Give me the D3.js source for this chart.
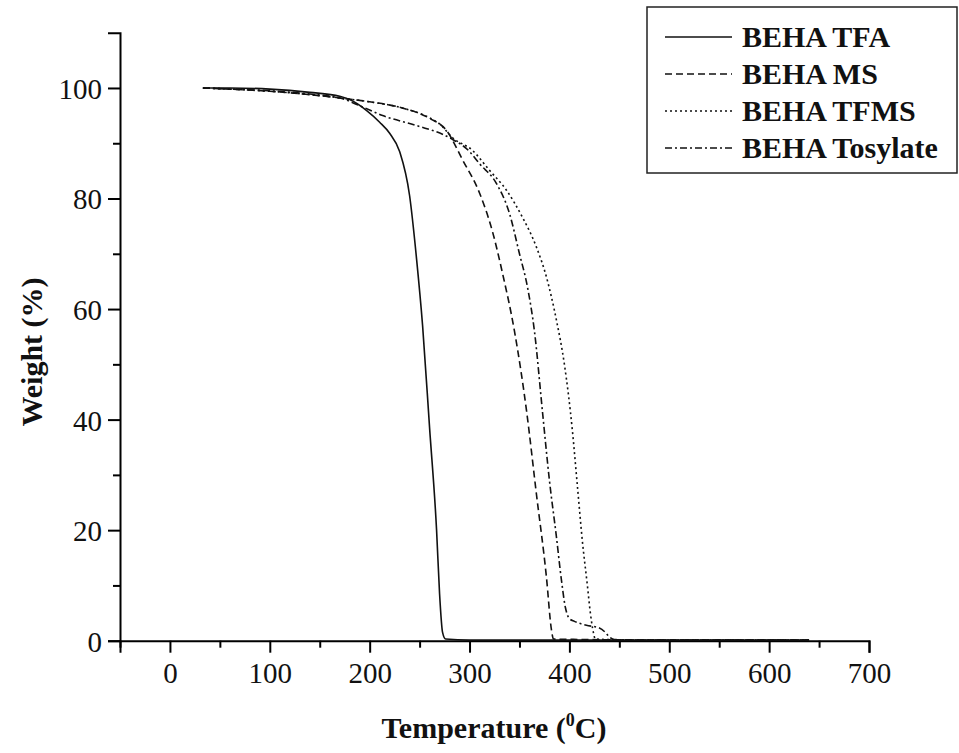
<!DOCTYPE html>
<html>
<head>
<meta charset="utf-8">
<script src="https://cdn.jsdelivr.net/npm/d3@7"></script>
<style>
  html, body { margin: 0; padding: 0; background: #fff; }
  svg { display: block; font-family: "Liberation Serif", "Times New Roman", serif; }
</style>
</head>
<body>
<svg id="chart" width="959" height="753"></svg>
<script>
// TGA curves — temperature (°C) vs weight (%)
const seriesNames = ['BEHA TFA', 'BEHA MS', 'BEHA TFMS', 'BEHA Tosylate'];

const tfaTemp   = [33, 60, 100, 140, 170, 180, 197, 210, 220, 230, 240, 247, 253, 260, 267, 270, 273, 276, 300, 400, 500, 640];
const tfaWeight = [100, 100, 99.8, 99.2, 98.5, 97.9, 95.9, 93.8, 91.8, 88.5, 80.5, 69, 57, 38.5, 20, 8.5, 1.5, 0.3, 0.1, 0.1, 0.1, 0.1];

const msTemp   = [33, 60, 100, 140, 170, 200, 230, 260, 277, 293, 310, 323, 333, 345, 357, 367, 377, 382, 384, 420, 500, 640];
const msWeight = [100, 99.8, 99.4, 98.8, 98.2, 97.5, 96.5, 94.5, 92.3, 87, 81, 74, 66.5, 56, 41.7, 26.5, 11.5, 2, 0.3, 0.2, 0.1, 0.1];

const tfmsTemp   = [33, 60, 100, 140, 170, 200, 230, 260, 270, 283, 303, 320, 337, 353, 367, 377, 387, 395, 403, 408, 413, 418, 421, 424, 426, 440, 500, 640];
const tfmsWeight = [100, 99.8, 99.4, 98.8, 98.2, 97.5, 96.5, 94.6, 93.5, 91, 88.7, 85.1, 81.5, 76.6, 71.2, 65.8, 58, 50, 38, 28, 18, 10, 5, 1.5, 0.3, 0.2, 0.1, 0.1];

const tosTemp   = [33, 60, 100, 140, 170, 190, 213, 247, 280, 300, 310, 327, 340, 350, 358, 365, 373, 380, 387, 392, 396, 400, 405, 417, 430, 436, 440, 445, 500, 640];
const tosWeight = [100, 99.8, 99.5, 98.9, 98.2, 96.8, 95, 93.2, 91, 88.5, 86.3, 82.7, 77.3, 70, 64, 56, 41.5, 29, 18.8, 11, 6, 4, 3.5, 2.8, 2.3, 1.5, 0.7, 0.2, 0.1, 0.1];

const xMajor = [0, 100, 200, 300, 400, 500, 600, 700];
const xMinor = [-50, 50, 150, 250, 350, 450, 550, 650];
const yMajor = [0, 20, 40, 60, 80, 100];
const yMinor = [10, 30, 50, 70, 90];

const series = [
  { name: seriesNames[0], t: tfaTemp,  w: tfaWeight,  dash: null },
  { name: seriesNames[1], t: msTemp,   w: msWeight,   dash: '7,4' },
  { name: seriesNames[2], t: tfmsTemp, w: tfmsWeight, dash: '2,3' },
  { name: seriesNames[3], t: tosTemp,  w: tosWeight,  dash: '7,3,2,3' }
];

const svg = d3.select('#chart');
const x = d3.scaleLinear().domain([-50, 700]).range([120, 869]);
const y = d3.scaleLinear().domain([0, 110]).range([640.7, 32.7]);

// Axes
const xAxis = svg.append('g').attr('transform', `translate(0,${y(0)})`)
  .call(d3.axisBottom(x).tickValues(xMajor).tickSize(12).tickPadding(6).tickFormat(d3.format('d')));
svg.append('g').attr('transform', `translate(0,${y(0)})`)
  .call(d3.axisBottom(x).tickValues(xMinor).tickSize(7).tickFormat(''))
  .select('.domain').remove();

const yAxis = svg.append('g').attr('transform', `translate(${x(-50)},0)`)
  .call(d3.axisLeft(y).tickValues(yMajor).tickSize(12).tickPadding(6).tickFormat(d3.format('d')));
svg.append('g').attr('transform', `translate(${x(-50)},0)`)
  .call(d3.axisLeft(y).tickValues(yMinor).tickSize(7).tickFormat(''))
  .select('.domain').remove();

svg.selectAll('.domain').attr('stroke', '#000').attr('stroke-width', 2);
svg.selectAll('.tick line').attr('stroke', '#000').attr('stroke-width', 2);
svg.selectAll('.tick text')
  .style('font-family', '"Liberation Serif", "Times New Roman", serif')
  .style('font-size', '29px')
  .attr('fill', '#111');
yAxis.selectAll('.tick text').attr('dy', '0.36em');
xAxis.selectAll('.tick text').attr('dy', '0.85em');

// Curves
const line = d3.line()
  .x(d => x(d[0]))
  .y(d => y(d[1]))
  .curve(d3.curveMonotoneX);

series.forEach(s => {
  svg.append('path')
    .datum(d3.zip(s.t, s.w))
    .attr('fill', 'none')
    .attr('stroke', '#111')
    .attr('stroke-width', 1.6)
    .attr('stroke-dasharray', s.dash)
    .attr('d', line);
});

// Axis titles
svg.append('text')
  .attr('x', 494).attr('y', 738)
  .attr('text-anchor', 'middle')
  .style('font-size', '30px').style('font-weight', 'bold')
  .attr('fill', '#111')
  .call(t => {
    t.append('tspan').text('Temperature (');
    t.append('tspan').attr('dy', -12).style('font-size', '18px').text('0');
    t.append('tspan').attr('dy', 12).text('C)');
  });

svg.append('text')
  .attr('transform', 'translate(42,352) rotate(-90)')
  .attr('text-anchor', 'middle')
  .style('font-size', '30px').style('font-weight', 'bold')
  .attr('fill', '#111')
  .text('Weight (%)');

// Legend
const legend = svg.append('g');
legend.append('rect')
  .attr('x', 647).attr('y', 7).attr('width', 310).attr('height', 166)
  .attr('fill', '#fff').attr('stroke', '#222').attr('stroke-width', 1.5);

series.forEach((s, i) => {
  const by = 47 + i * 37;
  legend.append('line')
    .attr('x1', 665).attr('x2', 732)
    .attr('y1', by - 10).attr('y2', by - 10)
    .attr('stroke', '#111').attr('stroke-width', 1.6)
    .attr('stroke-dasharray', s.dash);
  legend.append('text')
    .attr('x', 742).attr('y', by)
    .style('font-size', '30px').style('font-weight', 'bold')
    .attr('fill', '#111')
    .text(s.name);
});
</script>
</body>
</html>
